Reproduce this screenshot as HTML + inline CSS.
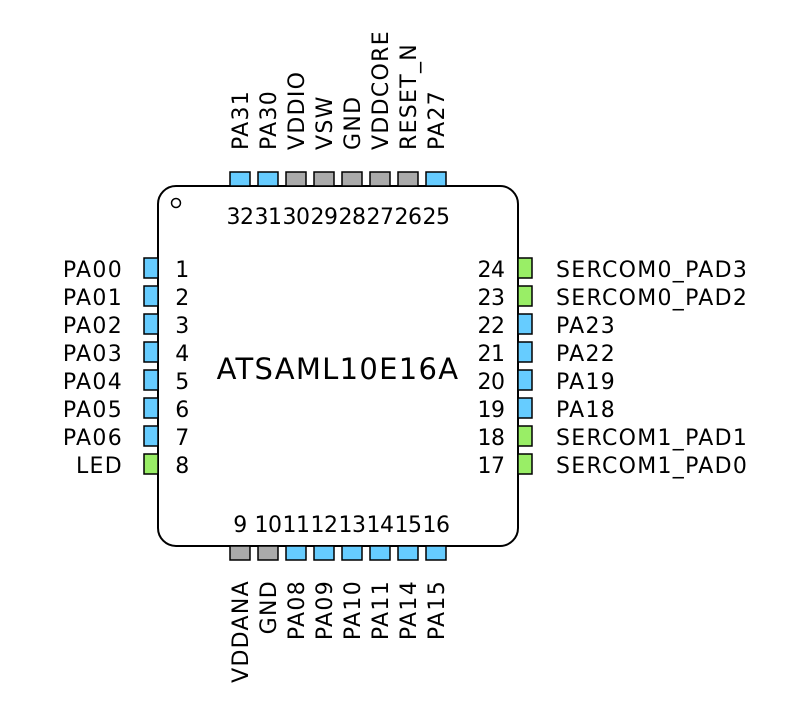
<!DOCTYPE html>
<html><head><meta charset="utf-8"><style>
html,body{margin:0;padding:0;background:#fff}
svg{display:block}
text{font-family:"DejaVu Sans","Liberation Sans",sans-serif;font-size:22px;fill:#000;letter-spacing:1.3px}
.n{letter-spacing:-0.5px}
</style></head><body>
<svg width="798" height="720" viewBox="0 0 798 720" xmlns="http://www.w3.org/2000/svg">
<rect x="158" y="186" width="360" height="360" rx="18" ry="18" fill="#fff" stroke="#000" stroke-width="2"/>
<circle cx="176" cy="203" r="4.5" fill="none" stroke="#000" stroke-width="1.5"/>
<text x="338" y="379" text-anchor="middle" style="font-size:29px;letter-spacing:1.3px">ATSAML10E16A</text>
<g stroke="#000" stroke-width="1.5">
<rect x="230" y="172" width="20" height="14" fill="#66ccff"/>
<rect x="258" y="172" width="20" height="14" fill="#66ccff"/>
<rect x="286" y="172" width="20" height="14" fill="#aaaaaa"/>
<rect x="314" y="172" width="20" height="14" fill="#aaaaaa"/>
<rect x="342" y="172" width="20" height="14" fill="#aaaaaa"/>
<rect x="370" y="172" width="20" height="14" fill="#aaaaaa"/>
<rect x="398" y="172" width="20" height="14" fill="#aaaaaa"/>
<rect x="426" y="172" width="20" height="14" fill="#66ccff"/>
<rect x="230" y="546" width="20" height="14" fill="#aaaaaa"/>
<rect x="258" y="546" width="20" height="14" fill="#aaaaaa"/>
<rect x="286" y="546" width="20" height="14" fill="#66ccff"/>
<rect x="314" y="546" width="20" height="14" fill="#66ccff"/>
<rect x="342" y="546" width="20" height="14" fill="#66ccff"/>
<rect x="370" y="546" width="20" height="14" fill="#66ccff"/>
<rect x="398" y="546" width="20" height="14" fill="#66ccff"/>
<rect x="426" y="546" width="20" height="14" fill="#66ccff"/>
<rect x="144" y="258" width="14" height="20" fill="#66ccff"/>
<rect x="144" y="286" width="14" height="20" fill="#66ccff"/>
<rect x="144" y="314" width="14" height="20" fill="#66ccff"/>
<rect x="144" y="342" width="14" height="20" fill="#66ccff"/>
<rect x="144" y="370" width="14" height="20" fill="#66ccff"/>
<rect x="144" y="398" width="14" height="20" fill="#66ccff"/>
<rect x="144" y="426" width="14" height="20" fill="#66ccff"/>
<rect x="144" y="454" width="14" height="20" fill="#99ee66"/>
<rect x="518" y="258" width="14" height="20" fill="#99ee66"/>
<rect x="518" y="286" width="14" height="20" fill="#99ee66"/>
<rect x="518" y="314" width="14" height="20" fill="#66ccff"/>
<rect x="518" y="342" width="14" height="20" fill="#66ccff"/>
<rect x="518" y="370" width="14" height="20" fill="#66ccff"/>
<rect x="518" y="398" width="14" height="20" fill="#66ccff"/>
<rect x="518" y="426" width="14" height="20" fill="#99ee66"/>
<rect x="518" y="454" width="14" height="20" fill="#99ee66"/>
</g>
<g text-anchor="end">
<text x="123" y="277">PA00</text><text x="123" y="305">PA01</text><text x="123" y="333">PA02</text><text x="123" y="361">PA03</text>
<text x="123" y="389">PA04</text><text x="123" y="417">PA05</text><text x="123" y="445">PA06</text><text x="123" y="473">LED</text>
</g>
<g text-anchor="middle">
<text class="n" x="182" y="277">1</text><text class="n" x="182" y="305">2</text><text class="n" x="182" y="333">3</text><text class="n" x="182" y="361">4</text>
<text class="n" x="182" y="389">5</text><text class="n" x="182" y="417">6</text><text class="n" x="182" y="445">7</text><text class="n" x="182" y="473">8</text>
<text class="n" x="491" y="277">24</text><text class="n" x="491" y="305">23</text><text class="n" x="491" y="333">22</text><text class="n" x="491" y="361">21</text>
<text class="n" x="491" y="389">20</text><text class="n" x="491" y="417">19</text><text class="n" x="491" y="445">18</text><text class="n" x="491" y="473">17</text>
<text class="n" x="240" y="224">32</text><text class="n" x="268" y="224">31</text><text class="n" x="296" y="224">30</text><text class="n" x="324" y="224">29</text>
<text class="n" x="352" y="224">28</text><text class="n" x="380" y="224">27</text><text class="n" x="408" y="224">26</text><text class="n" x="436" y="224">25</text>
<text class="n" x="240" y="532">9</text><text class="n" x="268" y="532">10</text><text class="n" x="296" y="532">11</text><text class="n" x="324" y="532">12</text>
<text class="n" x="352" y="532">13</text><text class="n" x="380" y="532">14</text><text class="n" x="408" y="532">15</text><text class="n" x="436" y="532">16</text>
</g>
<g>
<text x="556" y="277">SERCOM0_PAD3</text><text x="556" y="305">SERCOM0_PAD2</text><text x="556" y="333">PA23</text><text x="556" y="361">PA22</text>
<text x="556" y="389">PA19</text><text x="556" y="417">PA18</text><text x="556" y="445">SERCOM1_PAD1</text><text x="556" y="473">SERCOM1_PAD0</text>
</g>
<g>
<text transform="translate(248,150) rotate(-90)">PA31</text>
<text transform="translate(276,150) rotate(-90)">PA30</text>
<text transform="translate(304,150) rotate(-90)">VDDIO</text>
<text transform="translate(332,150) rotate(-90)">VSW</text>
<text transform="translate(360,150) rotate(-90)">GND</text>
<text transform="translate(388,150) rotate(-90)">VDDCORE</text>
<text transform="translate(416,150) rotate(-90)">RESET_N</text>
<text transform="translate(444,150) rotate(-90)">PA27</text>
</g>
<g text-anchor="end">
<text transform="translate(248,580) rotate(-90)">VDDANA</text>
<text transform="translate(276,580) rotate(-90)">GND</text>
<text transform="translate(304,580) rotate(-90)">PA08</text>
<text transform="translate(332,580) rotate(-90)">PA09</text>
<text transform="translate(360,580) rotate(-90)">PA10</text>
<text transform="translate(388,580) rotate(-90)">PA11</text>
<text transform="translate(416,580) rotate(-90)">PA14</text>
<text transform="translate(444,580) rotate(-90)">PA15</text>
</g>
</svg>
</body></html>
